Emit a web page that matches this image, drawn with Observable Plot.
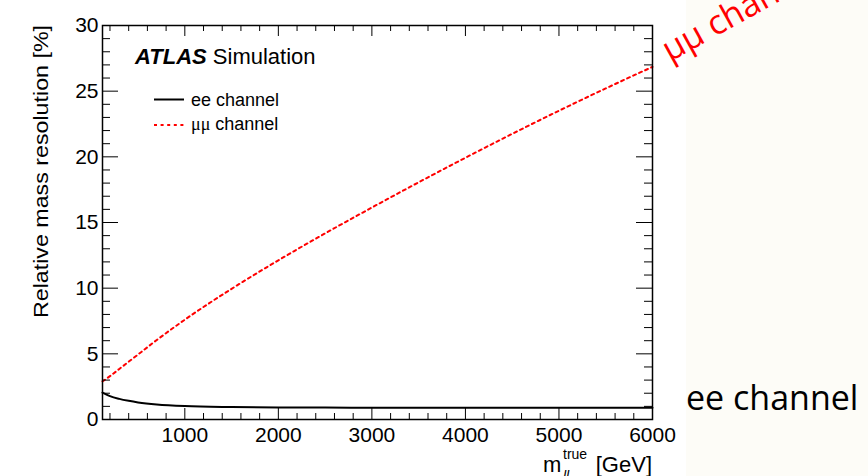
<!DOCTYPE html>
<html>
<head>
<meta charset="utf-8">
<script src="https://cdn.jsdelivr.net/npm/d3@7"></script>
<script src="https://cdn.jsdelivr.net/npm/@observablehq/plot@0.6"></script>
<style>
  html, body { margin: 0; padding: 0; background: white; }
  #chart { width: 868px; height: 476px; overflow: hidden; }
</style>
</head>
<body>
<div id="chart"></div>
<script>
// ---- data ----
const massGeV = [120, 200, 300, 400, 500, 700, 1000, 1500, 2000, 2500, 3000, 3500, 4000, 4500, 5000, 5500, 6000];
const eeRes   = [2.05, 1.78, 1.57, 1.42, 1.3, 1.14, 1.02, 0.95, 0.92, 0.91, 0.9, 0.9, 0.89, 0.89, 0.89, 0.89, 0.89];
const mumuRes = [2.9, 3.3, 3.85, 4.4, 4.95, 6.05, 7.6, 9.95, 12.12, 14.17, 16.14, 18.06, 19.93, 21.75, 23.51, 25.21, 26.85];

const xTickLabels = [1000, 2000, 3000, 4000, 5000, 6000];
const yTickLabels = [0, 5, 10, 15, 20, 25, 30];
const xMinorTicks = d3.range(200, 6000, 200).filter(v => v % 1000 !== 0);
const yMinorTicks = d3.range(1, 30, 1).filter(v => v % 5 !== 0);

const seriesNames = ["ee channel", "μμ channel"];
const annotationEE = "ee channel";
const annotationMM = "μμ channel";

// ---- layout ----
const W = 868, H = 476;
const mL = 102, mR = 216, mT = 25, mB = 57;
const innerW = W - mL - mR, innerH = H - mT - mB;

const ee = massGeV.map((m, i) => ({m, r: eeRes[i]}));
const mm = massGeV.map((m, i) => ({m, r: mumuRes[i]}));

const plot = Plot.plot({
  width: W, height: H,
  marginLeft: mL, marginRight: mR, marginTop: mT, marginBottom: mB,
  style: {fontFamily: "'Liberation Sans', Arial, sans-serif", fontSize: "21px", background: "transparent", color: "black", overflow: "hidden"},
  x: {domain: [120, 6000], label: null},
  y: {domain: [0, 30], label: null},
  marks: [
    Plot.line(mm, {x: "m", y: "r", stroke: "#ff0000", strokeWidth: 2, strokeDasharray: "3,3.6", curve: "monotone-x"}),
    Plot.line(ee, {x: "m", y: "r", stroke: "black", strokeWidth: 2, curve: "monotone-x"}),
    // inner ticks, ROOT style
    Plot.tickX(xTickLabels, {x: d => d, stroke: "black", insetTop: innerH - 11}),
    Plot.tickX(xMinorTicks, {x: d => d, stroke: "black", insetTop: innerH - 6}),
    Plot.tickX(xTickLabels, {x: d => d, stroke: "black", insetBottom: innerH - 11}),
    Plot.tickX(xMinorTicks, {x: d => d, stroke: "black", insetBottom: innerH - 6}),
    Plot.tickY(yTickLabels, {y: d => d, stroke: "black", insetRight: innerW - 16}),
    Plot.tickY(yMinorTicks, {y: d => d, stroke: "black", insetRight: innerW - 8}),
    Plot.tickY(yTickLabels, {y: d => d, stroke: "black", insetLeft: innerW - 16}),
    Plot.tickY(yMinorTicks, {y: d => d, stroke: "black", insetLeft: innerW - 8}),
    Plot.axisX({ticks: xTickLabels, tickSize: 0, tickPadding: 8, tickFormat: d => String(d), label: null}),
    Plot.axisY({ticks: yTickLabels, tickSize: 0, tickPadding: 4, tickFormat: d => String(d), label: null}),
    Plot.frame({stroke: "black", strokeWidth: 1.5})
  ]
});

document.getElementById("chart").appendChild(plot);
const svg = d3.select(plot);
const ns = "Liberation Sans, Arial, sans-serif";

// off-white slide region on the right (behind everything)
svg.insert("rect", ":first-child")
  .attr("x", 686).attr("y", 0).attr("width", W - 686).attr("height", H)
  .attr("fill", "#fdfcf7");

// y-axis title (ROOT: aligned to the top end)
svg.append("text")
  .attr("transform", `translate(48,${mT}) rotate(-90)`)
  .attr("text-anchor", "end")
  .attr("font-family", ns).attr("font-size", 21).attr("fill", "black")
  .attr("textLength", 293).attr("lengthAdjust", "spacingAndGlyphs")
  .text("Relative mass resolution [%]");

// x-axis title m_ll^true [GeV]
const xt = svg.append("g").attr("font-family", ns).attr("fill", "black").attr("text-anchor", "start");
xt.append("text").attr("x", mL + innerW - 109).attr("y", 472).attr("font-size", 22).text("m");
xt.append("text").attr("x", mL + innerW - 89).attr("y", 459).attr("font-size", 14).text("true");
xt.append("text").attr("x", mL + innerW - 89).attr("y", 481).attr("font-size", 14).attr("font-style", "italic").text("ll");
xt.append("text").attr("x", mL + innerW).attr("y", 472).attr("font-size", 22).attr("text-anchor", "end").text("[GeV]");

// ATLAS label
const at = svg.append("text").attr("x", 135).attr("y", 64).attr("text-anchor", "start")
  .attr("font-family", ns).attr("font-size", 22).attr("fill", "black");
at.append("tspan").attr("font-weight", "bold").attr("font-style", "italic").text("ATLAS");
at.append("tspan").text(" Simulation");

// legend
const lg = svg.append("g").attr("text-anchor", "start");
lg.append("line").attr("x1", 154).attr("x2", 184).attr("y1", 99.5).attr("y2", 99.5).attr("stroke", "black").attr("stroke-width", 2);
lg.append("text").attr("x", 191).attr("y", 106).attr("font-family", ns).attr("font-size", 18).text(seriesNames[0]);
lg.append("line").attr("x1", 154).attr("x2", 184).attr("y1", 125).attr("y2", 125).attr("stroke", "#ff0000").attr("stroke-width", 2).attr("stroke-dasharray", "3,3.6");
const lt = lg.append("text").attr("x", 191).attr("y", 130).attr("font-family", ns).attr("font-size", 18);
lt.append("tspan").attr("font-family", "Liberation Serif, serif").text(seriesNames[1].split(" ")[0]);
lt.append("tspan").text(" " + seriesNames[1].split(" ")[1]);

// slide annotations
svg.append("text").attr("x", 686).attr("y", 410).attr("text-anchor", "start")
  .attr("font-family", "'Open Sans', sans-serif").attr("font-size", 34).attr("fill", "black")
  .text(annotationEE);
svg.append("text").attr("transform", "translate(670,62) rotate(-29)").attr("text-anchor", "start")
  .attr("font-family", "'Open Sans', sans-serif").attr("font-size", 34).attr("fill", "#ff0000")
  .text(annotationMM);
</script>
</body>
</html>
